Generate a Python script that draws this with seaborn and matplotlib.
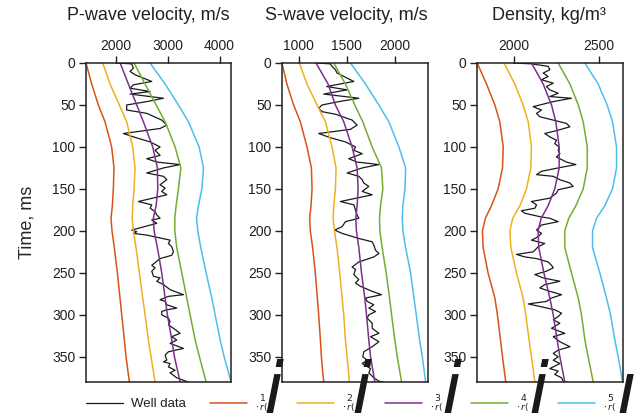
import matplotlib
matplotlib.use("Agg")
import matplotlib.pyplot as plt
import numpy as np
import pandas as pd
import seaborn as sns

# ---------------- data ----------------
DEPTH = [0, 25, 50, 70, 100, 125, 150, 170, 185, 200, 220, 250, 280, 300, 330, 350, 380]

P_C1 = [1420, 1530, 1658, 1787, 1916, 1961, 1948, 1929, 1903, 1922, 1967, 2026, 2077, 2110, 2161, 2193, 2258]
P_C2 = [1743, 1884, 2064, 2206, 2322, 2367, 2348, 2322, 2312, 2335, 2386, 2451, 2516, 2561, 2625, 2677, 2754]
P_C3 = [2080, 2238, 2400, 2528, 2709, 2799, 2806, 2774, 2720, 2735, 2799, 2883, 2948, 2992, 3077, 3128, 3238]
P_C4 = [2348, 2561, 2774, 2948, 3141, 3251, 3205, 3160, 3135, 3135, 3173, 3270, 3366, 3431, 3528, 3611, 3740]
P_C5 = [2657, 2948, 3205, 3399, 3605, 3689, 3657, 3592, 3555, 3579, 3637, 3740, 3850, 3914, 4011, 4088, 4223]

S_C1 = [824, 876, 946, 1016, 1085, 1131, 1138, 1127, 1113, 1120, 1144, 1172, 1193, 1207, 1225, 1235, 1259]
S_C2 = [1005, 1085, 1190, 1277, 1346, 1388, 1381, 1364, 1357, 1371, 1398, 1426, 1451, 1468, 1485, 1503, 1527]
S_C3 = [1179, 1305, 1381, 1468, 1555, 1607, 1618, 1607, 1593, 1600, 1625, 1653, 1687, 1705, 1729, 1747, 1792]
S_C4 = [1364, 1485, 1583, 1666, 1764, 1861, 1875, 1851, 1840, 1844, 1868, 1910, 1945, 1966, 2000, 2025, 2070]
S_C5 = [1538, 1694, 1833, 1938, 2042, 2112, 2105, 2084, 2077, 2084, 2112, 2164, 2199, 2223, 2258, 2286, 2321]

D_C1 = [1783, 1838, 1887, 1916, 1936, 1932, 1906, 1867, 1831, 1814, 1818, 1847, 1887, 1902, 1920, 1932, 1951]
D_C2 = [1941, 2004, 2053, 2083, 2102, 2098, 2073, 2034, 1992, 1975, 1981, 2014, 2053, 2069, 2088, 2102, 2122]
D_C3 = [2102, 2171, 2220, 2245, 2265, 2265, 2239, 2200, 2159, 2141, 2145, 2175, 2210, 2230, 2253, 2269, 2298]
D_C4 = [2259, 2328, 2377, 2406, 2430, 2430, 2406, 2363, 2321, 2298, 2298, 2337, 2377, 2396, 2416, 2435, 2465]
D_C5 = [2416, 2494, 2547, 2578, 2602, 2602, 2578, 2533, 2484, 2461, 2461, 2504, 2543, 2567, 2592, 2612, 2637]

# well data: (time ms, value)
P_WELL = [(0, 2000), (1, 2300), (6, 2335), (10, 2271), (14, 2368), (22, 2690), (26, 2335), (30, 2271),
          (34, 2658), (37, 2271), (42, 2916), (46, 2593), (50, 2206), (56, 2206), (60, 2593), (68, 2883),
          (74, 2980), (78, 2851), (84, 2142), (88, 2335), (94, 2658), (100, 2851), (104, 2754), (110, 2851),
          (114, 2593), (118, 2787), (121, 3238), (125, 2916), (131, 2593), (135, 2916), (139, 2980),
          (145, 2851), (149, 2948), (153, 2883), (157, 2980), (165, 2432), (169, 2690), (173, 2658),
          (177, 2754), (181, 2787), (185, 2851), (187, 2690), (191, 2787), (199, 2303), (201, 2400),
          (203, 2335), (205, 2593), (211, 3044), (215, 3012), (219, 3077), (225, 3109), (229, 3077),
          (233, 2851), (241, 2690), (244, 2754), (248, 2690), (254, 2722), (256, 2851), (260, 2787),
          (264, 2916), (270, 3044), (276, 3302), (278, 3012), (282, 2851), (284, 2948), (288, 2980),
          (292, 3173), (294, 2980), (296, 2883), (300, 2883), (304, 3012), (308, 3044), (312, 3012),
          (316, 3109), (322, 3238), (326, 3077), (330, 3173), (334, 3044), (340, 3302), (344, 3012),
          (348, 2948), (354, 2980), (356, 2916), (358, 3044), (362, 3012), (366, 3141), (369, 3044),
          (375, 3173), (378, 3302), (380, 3400)]

S_WELL = [(0, 1172), (1, 1329), (4, 1346), (8, 1381), (12, 1398), (22, 1573), (28, 1290), (32, 1503),
          (37, 1259), (42, 1625), (46, 1416), (50, 1242), (54, 1207), (58, 1242), (61, 1381), (68, 1555),
          (74, 1607), (79, 1538), (84, 1207), (89, 1329), (94, 1485), (100, 1590), (104, 1573), (108, 1660),
          (114, 1520), (118, 1607), (121, 1833), (125, 1660), (131, 1503), (135, 1625), (139, 1660),
          (143, 1677), (147, 1729), (153, 1660), (157, 1764), (165, 1433), (169, 1573), (175, 1590),
          (181, 1607), (185, 1625), (189, 1485), (195, 1451), (199, 1374), (203, 1451), (209, 1625),
          (213, 1764), (217, 1781), (223, 1799), (227, 1834), (231, 1781), (237, 1625), (243, 1555),
          (246, 1590), (252, 1573), (258, 1625), (262, 1590), (266, 1642), (272, 1764), (276, 1861),
          (280, 1694), (284, 1712), (288, 1781), (292, 1729), (296, 1799), (300, 1729), (304, 1712),
          (310, 1764), (316, 1764), (322, 1834), (326, 1747), (332, 1834), (338, 1764), (344, 1677),
          (350, 1666), (354, 1712), (358, 1660), (364, 1747), (369, 1729), (375, 1781), (379, 1834),
          (380, 1880)]

D_WELL = [(0, 1995), (1, 2102), (4, 2200), (8, 2210), (12, 2171), (16, 2200), (20, 2161), (24, 2230),
          (28, 2190), (32, 2210), (36, 2259), (40, 2210), (42, 2337), (46, 2230), (52, 2112), (56, 2161),
          (60, 2132), (64, 2151), (68, 2230), (72, 2308), (76, 2328), (80, 2259), (84, 2180), (88, 2210),
          (92, 2249), (96, 2239), (100, 2265), (104, 2259), (108, 2269), (112, 2249), (118, 2308),
          (121, 2363), (125, 2259), (129, 2161), (133, 2132), (135, 2230), (139, 2269), (143, 2328),
          (147, 2347), (151, 2259), (155, 2249), (161, 2210), (165, 2102), (169, 2132), (173, 2122),
          (176, 2043), (179, 2063), (183, 2151), (185, 2210), (189, 2259), (193, 2161), (199, 2132),
          (203, 2161), (207, 2141), (211, 2102), (215, 2180), (219, 2141), (225, 2112), (228, 2014),
          (231, 2063), (233, 2132), (237, 2200), (241, 2220), (244, 2230), (248, 2190), (252, 2122),
          (256, 2171), (260, 2269), (264, 2180), (268, 2151), (272, 2210), (276, 2279), (280, 2220),
          (284, 2190), (287, 2083), (290, 2151), (294, 2239), (298, 2279), (302, 2259), (306, 2230),
          (310, 2269), (316, 2220), (322, 2298), (326, 2230), (332, 2269), (338, 2328), (342, 2259),
          (346, 2230), (350, 2259), (354, 2230), (358, 2269), (364, 2210), (367, 2259), (371, 2239),
          (375, 2279), (379, 2288), (380, 2310)]

TITLES = ["P-wave velocity, m/s", "S-wave velocity, m/s", "Density, kg/m\u00b3"]
XTICKS = [[2000, 3000, 4000], [1000, 1500, 2000], [2000, 2500]]
XLIMS = [(1420, 4230), (825, 2340), (1782, 2637)]
YTICKS = [0, 50, 100, 150, 200, 250, 300, 350]
YLIM = (380, 0)
CURVE_NAMES = ["1", "2", "3", "4", "5"]
LEGEND_WELL = "Well data"

COLORS = ["#D95319", "#EDB120", "#7E2F8E", "#77AC30", "#4DBEEE"]
WELL_COLOR = "#1a1a1a"

# ---------------- style ----------------
sns.set_theme(style="ticks")
plt.rcParams["font.family"] = ["Liberation Sans", "DejaVu Sans"]
plt.rcParams["axes.edgecolor"] = "#231f20"
plt.rcParams["text.color"] = "#231f20"
plt.rcParams["xtick.color"] = "#231f20"
plt.rcParams["ytick.color"] = "#231f20"

W, H = 641, 417
fig = plt.figure(figsize=(W / 100, H / 100), dpi=100)

ax_left_px = [86, 282, 477]
ax_w_px = 145.5
ax_top_px, ax_bot_px = 63, 382

panels = [
    (P_WELL, [P_C1, P_C2, P_C3, P_C4, P_C5]),
    (S_WELL, [S_C1, S_C2, S_C3, S_C4, S_C5]),
    (D_WELL, [D_C1, D_C2, D_C3, D_C4, D_C5]),
]

axes = []
for i, (well, curves) in enumerate(panels):
    ax = fig.add_axes([ax_left_px[i] / W, 1 - ax_bot_px / H, ax_w_px / W, (ax_bot_px - ax_top_px) / H])
    axes.append(ax)
    dfw = pd.DataFrame(well, columns=["time", "value"])
    dfc = pd.DataFrame({
        "time": DEPTH * 5,
        "value": sum(curves, []),
        "curve": sum([[n] * len(DEPTH) for n in CURVE_NAMES], []),
    })
    sns.lineplot(data=dfw, x="value", y="time", orient="y", sort=False, estimator=None,
                 color=WELL_COLOR, lw=0.9, legend=False, ax=ax)
    sns.lineplot(data=dfc, x="value", y="time", hue="curve", hue_order=CURVE_NAMES,
                 palette=COLORS, orient="y", sort=False, estimator=None, lw=1.1,
                 legend=False, ax=ax)
    ax.set_xlim(*XLIMS[i])
    ax.set_ylim(*YLIM)
    ax.set_xticks(XTICKS[i])
    ax.set_yticks(YTICKS)
    ax.xaxis.tick_top()
    ax.set_xlabel("")
    ax.set_ylabel("")
    for s in ax.spines.values():
        s.set_visible(True)
        s.set_linewidth(1.1)
        s.set_color("#231f20")
    ax.tick_params(axis="both", direction="out", length=5, width=1, labelsize=10, pad=2.5)
    ax.tick_params(axis="x", top=True, bottom=False)
    ax.tick_params(axis="y", left=True, right=False)

axes[0].set_ylabel("Time, ms", fontsize=13)
axes[0].yaxis.set_label_coords((36 - 86) / ax_w_px, 0.5)

title_cx = [148.5, 346.5, 549]
for cx, t in zip(title_cx, TITLES):
    fig.text(cx / W, 1 - 15 / H, t, ha="center", va="center", fontsize=13)

# ---------------- legend ----------------
legend_y = 1 - 404 / H
handles = axes[0].get_lines()
em = 9.5 * 100 / 72
fig.legend(handles=[handles[0]], labels=[LEGEND_WELL], loc="center left",
           bbox_to_anchor=(86 / W, legend_y), frameon=False, borderpad=0, borderaxespad=0,
           handlelength=37 / em, handletextpad=8 / em, fontsize=9.5)
leg_x = [210, 297, 385, 471, 558]
for k in range(5):
    lab = r"${}^{\,\,\,%s}_{\cdot\,r(}$" % CURVE_NAMES[k]
    fig.legend(handles=[handles[1 + k]], labels=[lab], loc="center left",
               bbox_to_anchor=(leg_x[k] / W, legend_y), frameon=False, borderpad=0,
               borderaxespad=0, handlelength=37 / em, handletextpad=8 / em, fontsize=9.5)

# large italic glyphs overlapping the legend labels
glyph_cx = [274, 362, 452, 539, 627]
for k, cx in enumerate(glyph_cx):
    ch = "i" if k < 4 else "\u0131"
    fig.text(cx / W, 1 - 413 / H, ch, ha="center", va="baseline", fontsize=52,
             family="DejaVu Sans", style="italic", color=WELL_COLOR)

fig.savefig("out.png", dpi=100)
